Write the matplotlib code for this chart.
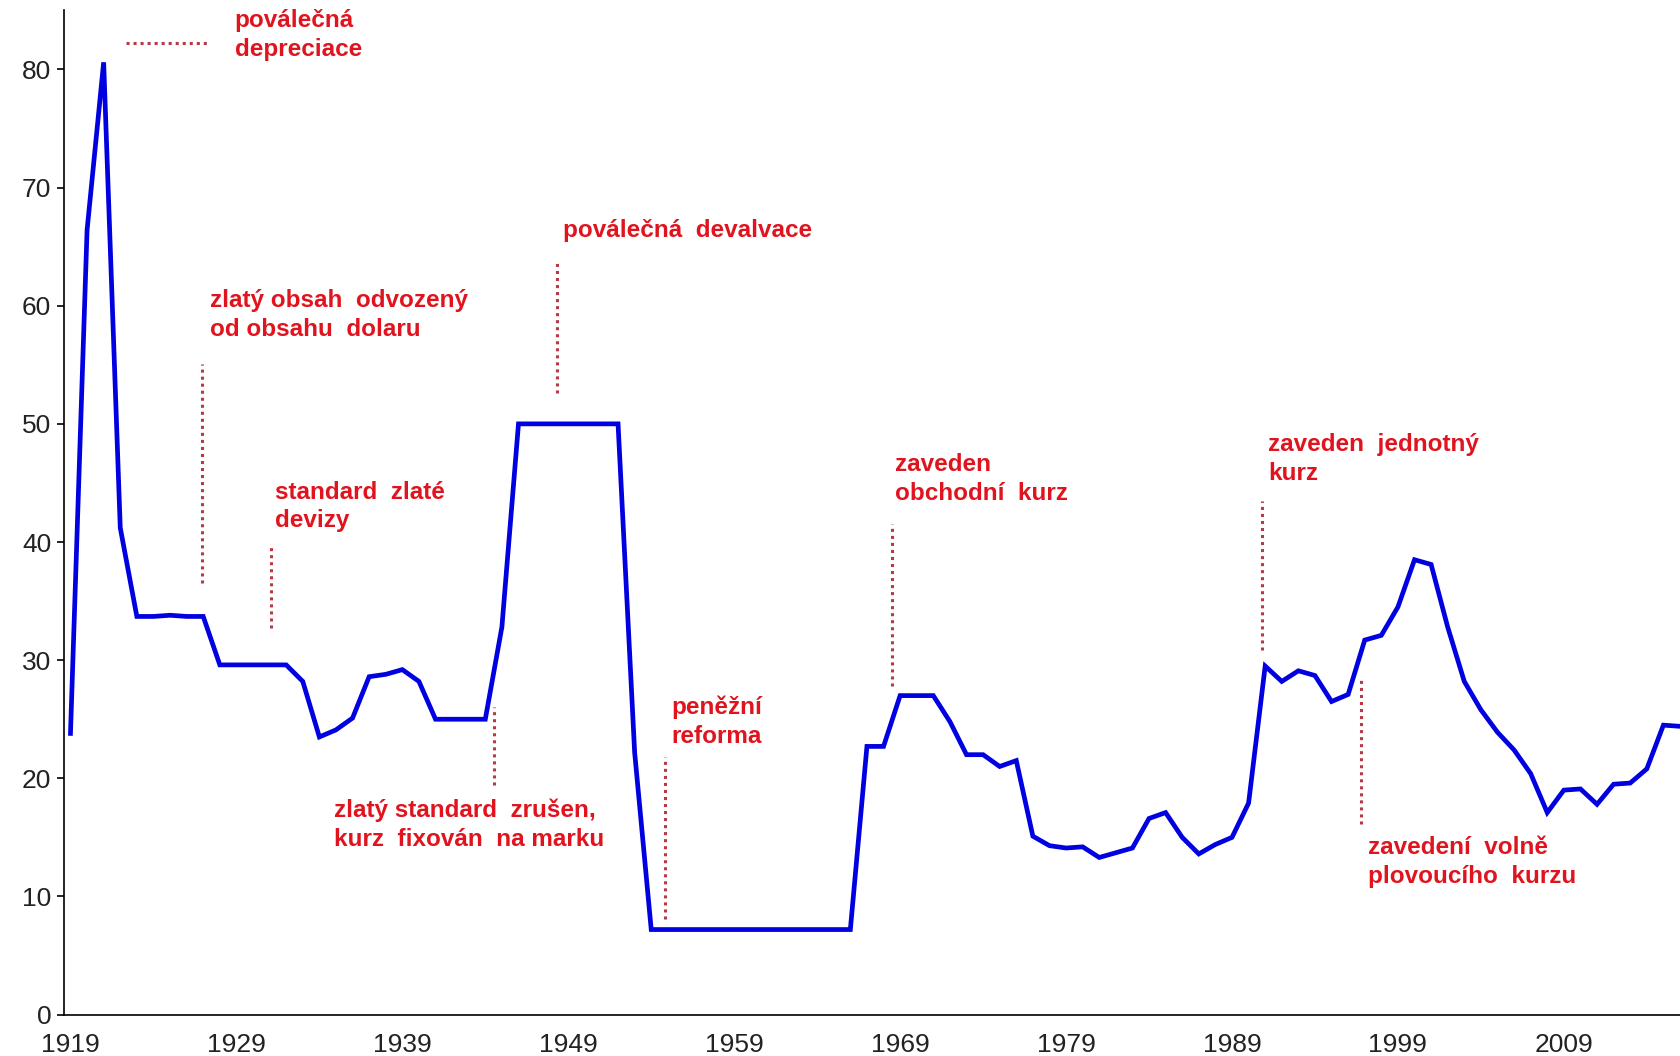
import matplotlib
matplotlib.use("Agg")
import matplotlib.pyplot as plt

# Kurz koruny k dolaru (CZK/USD), roční hodnoty 1919-2016
years = list(range(1919, 2017))
rate = [
    23.8, 66.4, 80.6, 41.2, 33.7, 33.7, 33.8, 33.7, 33.7, 29.6,   # 1919-1928
    29.6, 29.6, 29.6, 29.6, 28.2, 23.5, 24.1, 25.1, 28.6, 28.8,   # 1929-1938
    29.2, 28.2, 25.0, 25.0, 25.0, 25.0, 32.8, 50.0, 50.0, 50.0,   # 1939-1948
    50.0, 50.0, 50.0, 50.0, 22.2, 7.2, 7.2, 7.2, 7.2, 7.2,        # 1949-1958
    7.2, 7.2, 7.2, 7.2, 7.2, 7.2, 7.2, 7.2, 22.7, 22.7,           # 1959-1968
    27.0, 27.0, 27.0, 24.8, 22.0, 22.0, 21.0, 21.5, 15.1, 14.3,   # 1969-1978
    14.1, 14.2, 13.3, 13.7, 14.1, 16.6, 17.1, 15.0, 13.6, 14.4,   # 1979-1988
    15.0, 17.9, 29.5, 28.2, 29.1, 28.7, 26.5, 27.1, 31.7, 32.1,   # 1989-1998
    34.5, 38.5, 38.1, 32.8, 28.2, 25.8, 23.9, 22.4, 20.4, 17.1,   # 1999-2008
    19.0, 19.1, 17.8, 19.5, 19.6, 20.8, 24.5, 24.4,               # 2009-2016
]

xtick_years = [1919, 1929, 1939, 1949, 1959, 1969, 1979, 1989, 1999, 2009]
ytick_vals = [0, 10, 20, 30, 40, 50, 60, 70, 80]

# popisky: (text, rok, hodnota horního okraje)
labels = [
    ("poválečná\ndepreciace", 1928.9, 85.1),
    ("zlatý obsah  odvozený\nod obsahu  dolaru", 1927.4, 61.4),
    ("standard  zlaté\ndevizy", 1931.3, 45.2),
    ("zlatý standard  zrušen,\nkurz  fixován  na marku", 1934.9, 18.3),
    ("poválečná  devalvace", 1948.7, 67.3),
    ("peněžní\nreforma", 1955.2, 27.0),
    ("zaveden\nobchodní  kurz", 1968.7, 47.5),
    ("zaveden  jednotný\nkurz", 1991.2, 49.2),
    ("zavedení  volně\nplovoucího  kurzu", 1997.2, 15.1),
]

# tečkované vodicí čáry: svislé (rok, od, do), vodorovná (od roku, do roku, hodnota)
vlines = [
    (1926.9, 36.5, 55.1),
    (1931.1, 32.7, 39.6),
    (1944.55, 19.4, 26.0),
    (1948.3, 52.6, 63.9),
    (1954.8, 8.1, 21.8),
    (1968.5, 27.8, 41.5),
    (1990.8, 30.9, 43.5),
    (1996.8, 16.1, 28.6),
]
hline = (1922.35, 1927.4, 82.2)

plt.rcParams['font.family'] = ['Liberation Sans', 'DejaVu Sans']

fig = plt.figure(figsize=(16.8, 10.56), dpi=100)
ax = fig.add_axes([0.038, 0.0392, 0.962, 0.951])

ax.plot(years, rate, color='#0000e0', linewidth=3.4, solid_joinstyle='miter')

dot_color = '#b53a48'
for x, y0, y1 in vlines:
    ax.plot([x, x], [y0, y1], color=dot_color, linestyle=(0, (1, 1.3)), linewidth=2.2)
ax.plot([hline[0], hline[1]], [hline[2], hline[2]], color=dot_color, linestyle=(0, (1, 1.3)), linewidth=2.2)

for txt, x, y in labels:
    ax.text(x, y, txt, color='#e0141e', fontsize=17.5, fontweight='bold',
            ha='left', va='top', linespacing=1.32)

ax.set_xlim(1918.6, 2016)
ax.set_ylim(0, 85)
ax.set_xticks(xtick_years)
ax.set_yticks(ytick_vals)
ax.tick_params(axis='both', labelsize=19, labelcolor='#222222')
ax.tick_params(axis='x', length=0, pad=13)
ax.tick_params(axis='y', length=5, width=1.2, pad=4)

for side in ['top', 'right']:
    ax.spines[side].set_visible(False)
ax.spines['left'].set_linewidth(1.2)
ax.spines['bottom'].set_linewidth(1.2)

fig.savefig('out.png', dpi=100)
